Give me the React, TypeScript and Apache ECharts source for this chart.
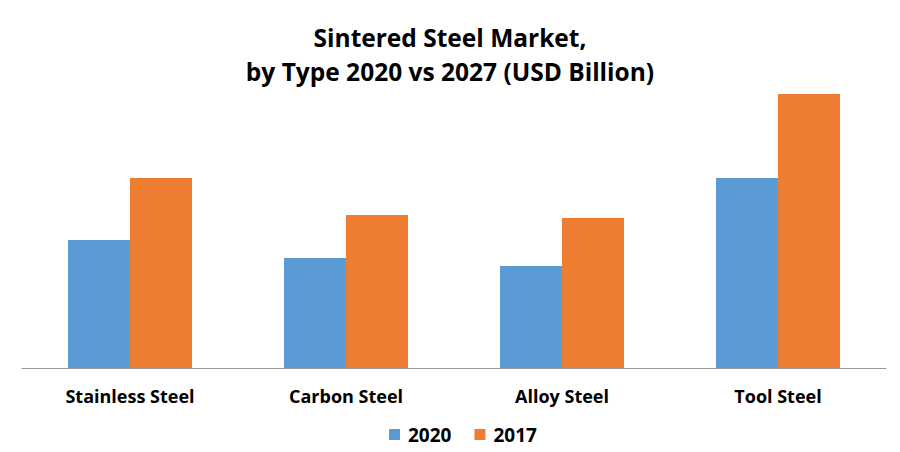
import React, { useEffect, useRef } from "react";
import * as echarts from "echarts";

const categories = ["Stainless Steel", "Carbon Steel", "Alloy Steel", "Tool Steel"];
const values2020 = [1.28, 1.1, 1.02, 1.9];
const values2017 = [1.9, 1.53, 1.5, 2.74];
const seriesNames = ["2020", "2017"];

export default function App() {
  const ref = useRef<HTMLDivElement>(null);
  useEffect(() => {
    if (!ref.current) return;
    const chart = echarts.init(ref.current, null, { renderer: "svg" });
    const font = "'Open Sans', 'Noto Sans', sans-serif";
    chart.setOption({
      animation: false,
      backgroundColor: "#ffffff",
      title: {
        text: "Sintered Steel Market,\nby Type 2020 vs 2027 (USD Billion)",
        left: "center",
        top: 15,
        textStyle: {
          fontFamily: font,
          fontSize: 24.5,
          fontWeight: "bold",
          color: "#000000",
          lineHeight: 34,
        },
      },
      legend: {
        data: seriesNames,
        bottom: 3,
        left: 384,
        itemWidth: 11,
        itemHeight: 11,
        itemGap: 23,
        icon: "rect",
        textStyle: { fontFamily: font, fontSize: 19, fontWeight: "bold", color: "#000000", padding: [0, 0, 0, 3] },
      },
      grid: { left: 22, right: 14, top: 68, bottom: 84, containLabel: false },
      xAxis: {
        type: "category",
        data: categories,
        axisLine: { lineStyle: { color: "#9a9a9a", width: 1 } },
        axisTick: { show: false },
        axisLabel: {
          fontFamily: font,
          fontSize: 18,
          fontWeight: "bold",
          color: "#000000",
          margin: 19,
        },
      },
      yAxis: {
        type: "value",
        min: 0,
        max: 3,
        show: false,
        splitLine: { show: false },
      },
      series: [
        {
          name: seriesNames[0],
          type: "bar",
          data: values2020,
          barWidth: 62,
          barGap: "0%",
          itemStyle: { color: "#5B9BD5" },
        },
        {
          name: seriesNames[1],
          type: "bar",
          data: values2017,
          barWidth: 62,
          barGap: "0%",
          itemStyle: { color: "#ED7D31" },
        },
      ],
    });
    return () => chart.dispose();
  }, []);
  return (
    <div
      ref={ref}
      style={{ position: "absolute", left: 0, top: 0, width: 900, height: 452 }}
    />
  );
}
